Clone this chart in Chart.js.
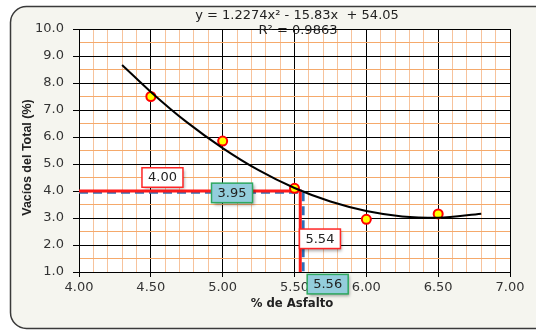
<!DOCTYPE html>
<html>
<head>
<meta charset="utf-8">
<script src="https://cdn.jsdelivr.net/npm/chart.js@4.4.1/dist/chart.umd.min.js"></script>
<style>
  html, body { margin: 0; padding: 0; background: #fff; }
  #wrap { width: 536px; height: 330px; }
</style>
</head>
<body>
<div id="wrap"><canvas id="chart" width="536" height="330"></canvas></div>
<script>
// measured samples
const asphaltPct = [4.5, 5.0, 5.5, 6.0, 6.5];
const totalVoids = [7.5, 5.85, 4.1, 2.95, 3.15];

// trendline
const trendX = [4.3, 4.5, 4.75, 5.0, 5.25, 5.5, 5.75, 6.0, 6.25, 6.5, 6.8];
const trendY = [8.67, 7.67, 6.55, 5.59, 4.77, 4.11, 3.61, 3.26, 3.06, 3.01, 3.16];

// design lines
const targetVoids = 4.00;
const asphaltAtTarget = 5.54;
const curveVoids = 3.95;
const asphaltAtCurve = 5.56;

const xRange = [4, 7];
const yRange = [1, 10];

const equationText = "y = 1.2274x\u00b2 - 15.83x  + 54.05";
const r2Text = "R\u00b2 = 0.9863";

const redLine = [
  { x: xRange[0], y: targetVoids },
  { x: asphaltAtTarget, y: targetVoids },
  { x: asphaltAtTarget, y: yRange[0] }
];
const blueLine = [
  { x: xRange[0], y: curveVoids },
  { x: asphaltAtCurve, y: curveVoids },
  { x: asphaltAtCurve, y: yRange[0] }
];

// callout boxes (placed in data units)
const callouts = [
  { text: targetVoids.toFixed(2), x: 4.581, y: 4.5, kind: "red" },
  { text: curveVoids.toFixed(2), x: 5.065, y: 3.93, kind: "teal" },
  { text: asphaltAtTarget.toFixed(2), x: 5.677, y: 2.23, kind: "red" },
  { text: asphaltAtCurve.toFixed(2), x: 5.731, y: 0.55, kind: "teal" }
];

const isMult = (v, step) => Math.abs(v / step - Math.round(v / step)) < 1e-6;

const decorPlugin = {
  id: "decor",
  beforeDraw(chart) {
    const ctx = chart.ctx;
    const ca = chart.chartArea;
    ctx.save();
    ctx.fillStyle = "#fff";
    ctx.fillRect(0, 0, chart.width, chart.height);
    ctx.beginPath();
    ctx.roundRect(10.5, 6.5, 540, 322, 16);
    ctx.fillStyle = "#F5F5EF";
    ctx.fill();
    ctx.lineWidth = 1.5;
    ctx.strokeStyle = "#3a3a3a";
    ctx.stroke();
    ctx.fillStyle = "#fff";
    ctx.fillRect(ca.left, ca.top, ca.right - ca.left, ca.bottom - ca.top);
    ctx.restore();
  },
  afterDraw(chart) {
    const ctx = chart.ctx;
    const ca = chart.chartArea;
    const xs = chart.scales.x, ys = chart.scales.y;
    ctx.save();
    // trendline label
    ctx.fillStyle = "#222";
    ctx.font = "13px 'DejaVu Sans'";
    ctx.textAlign = "center";
    ctx.textBaseline = "middle";
    ctx.fillText(equationText, 297, ca.top - 13);
    ctx.fillText(r2Text, 298, ca.top + 2);

    // axis titles
    ctx.font = "bold 11.7px 'DejaVu Sans'";
    ctx.fillText("% de Asfalto", 292, 304);
    ctx.save();
    ctx.translate(28, 157.5);
    ctx.rotate(-Math.PI / 2);
    ctx.font = "bold 12.5px 'Liberation Sans'";
    ctx.fillText("Vac\u00edos del Total (%)", 0, 0);
    ctx.restore();

    // callouts
    ctx.font = "13px 'DejaVu Sans'";
    callouts.forEach(c => {
      const cx = xs.getPixelForValue(c.x);
      const cy = ys.getPixelForValue(c.y);
      const w = 41, h = 19.5;
      ctx.save();
      ctx.shadowColor = "rgba(0,0,0,0.35)";
      ctx.shadowOffsetX = 2;
      ctx.shadowOffsetY = 2;
      ctx.shadowBlur = 3;
      ctx.fillStyle = c.kind === "red" ? "#ffffff" : "#93CDDC";
      ctx.fillRect(cx - w / 2, cy - h / 2, w, h);
      ctx.restore();
      ctx.lineWidth = 1.5;
      ctx.strokeStyle = c.kind === "red" ? "#FF2626" : "#2EA860";
      ctx.strokeRect(cx - w / 2, cy - h / 2, w, h);
      ctx.fillStyle = "#222";
      ctx.fillText(c.text, cx, cy + 0.5);
    });
    ctx.restore();
  }
};

new Chart(document.getElementById("chart"), {
  type: "scatter",
  data: {
    datasets: [
      {
        type: "line",
        data: trendX.map((x, i) => ({ x: x, y: trendY[i] })),
        borderColor: "#000",
        borderWidth: 2,
        pointRadius: 0,
        cubicInterpolationMode: "monotone",
        fill: false,
        order: 0
      },
      {
        data: asphaltPct.map((x, i) => ({ x: x, y: totalVoids[i] })),
        pointRadius: 4.5,
        pointBorderWidth: 2,
        pointBackgroundColor: "#FFFF00",
        pointBorderColor: "#FF0000",
        order: 1
      },
      {
        type: "line",
        data: redLine,
        borderColor: "#FF1A1A",
        borderWidth: 3,
        pointRadius: 0,
        tension: 0,
        fill: false,
        order: 2
      },
      {
        type: "line",
        data: blueLine,
        borderColor: "#2F6DB5",
        borderWidth: 3,
        borderDash: [9, 5],
        pointRadius: 0,
        tension: 0,
        fill: false,
        order: 3
      }
    ]
  },
  options: {
    responsive: false,
    animation: false,
    events: [],
    layout: { padding: { left: 10, top: 29, right: 26, bottom: 0 } },
    plugins: { legend: { display: false }, tooltip: { enabled: false } },
    scales: {
      x: {
        type: "linear",
        min: xRange[0],
        max: xRange[1],
        afterFit: s => { s.height = 58; },
        border: { color: "#000", width: 1 },
        grid: {
          color: c => isMult(c.tick.value, 0.5) ? "#000" : "#F7C39C",
          tickColor: c => isMult(c.tick.value, 0.5) ? "#000" : "rgba(0,0,0,0)",
          tickLength: 5,
          lineWidth: 1
        },
        ticks: {
          stepSize: 0.1,
          autoSkip: false,
          maxRotation: 0,
          padding: 3,
          color: "#333",
          font: { family: "'DejaVu Sans'", size: 13 },
          callback: v => isMult(v, 0.5) ? v.toFixed(2) : ""
        }
      },
      y: {
        type: "linear",
        min: yRange[0],
        max: yRange[1],
        afterFit: s => { s.width = 69; },
        border: { color: "#000", width: 1 },
        grid: {
          color: c => isMult(c.tick.value, 1) ? "#000" : "#F5A96B",
          tickColor: c => isMult(c.tick.value, 1) ? "#000" : "rgba(0,0,0,0)",
          tickLength: 6,
          lineWidth: 1
        },
        ticks: {
          stepSize: 0.5,
          autoSkip: false,
          padding: 9,
          color: "#333",
          font: { family: "'DejaVu Sans'", size: 13 },
          callback: v => isMult(v, 1) ? v.toFixed(1) : ""
        }
      }
    }
  },
  plugins: [decorPlugin]
});
</script>
</body>
</html>
